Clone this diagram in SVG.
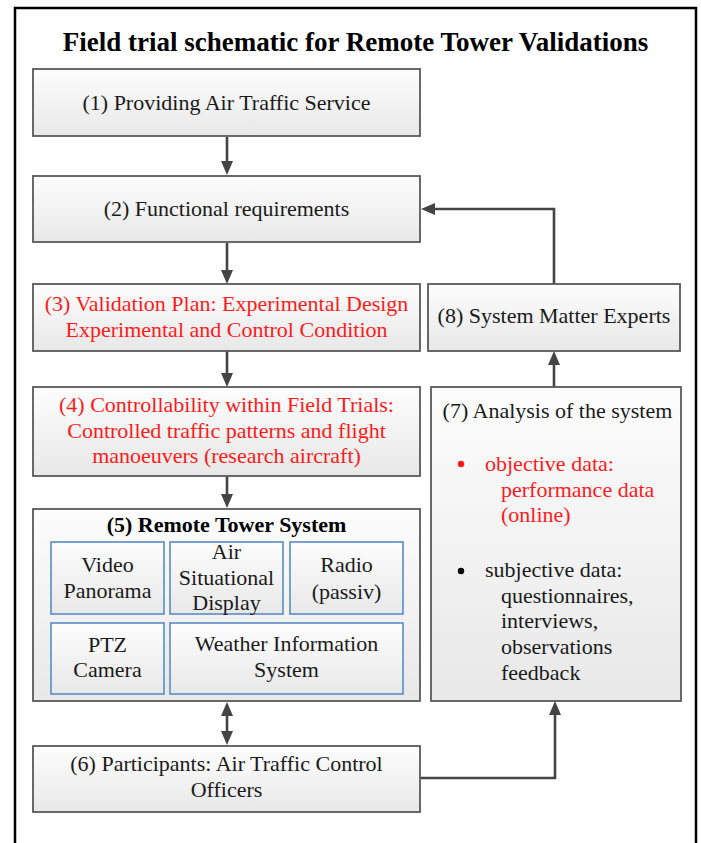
<svg xmlns="http://www.w3.org/2000/svg" width="701" height="843" viewBox="0 0 701 843">
<style>
.box{fill:url(#g);stroke:#595959;stroke-width:1.8}
.inner{fill:url(#g);stroke:#5b8cc4;stroke-width:1.6}
.t{font-family:"Liberation Serif","Times New Roman",serif;font-size:22px;fill:#1a1a1a}
.c{text-anchor:middle}
.r{fill:#ff1a1a}
.b{font-weight:bold;fill:#000}
.conn{fill:none;stroke:#444;stroke-width:2.6}
</style>
<defs>
<linearGradient id="g" x1="0" y1="0" x2="0" y2="1">
<stop offset="0" stop-color="#fdfdfd"/>
<stop offset="1" stop-color="#e8e8e8"/>
</linearGradient>
<marker id="ah" viewBox="0 0 14 12" refX="10" refY="6" markerWidth="14" markerHeight="12" markerUnits="userSpaceOnUse" orient="auto-start-reverse">
<path d="M0,0 L14,6 L0,12 z" fill="#444"/>
</marker>
</defs>
<rect x="15" y="8" width="681" height="850" fill="#fff" stroke="#000" stroke-width="2.5"/>
<text class="t b c" x="355.5" y="51" style="font-size:27px">Field trial schematic for Remote Tower Validations</text>

<g id="connectors">
<path class="conn" d="M227,137 V171" marker-end="url(#ah)"/>
<path class="conn" d="M227,243 V280" marker-end="url(#ah)"/>
<path class="conn" d="M227,351 V383" marker-end="url(#ah)"/>
<path class="conn" d="M227,476 V504" marker-end="url(#ah)"/>
<path class="conn" d="M227,706 V741" marker-start="url(#ah)" marker-end="url(#ah)"/>
<path class="conn" d="M554,284 V209 H425" marker-end="url(#ah)"/>
<path class="conn" d="M554,387 V355" marker-end="url(#ah)"/>
<path class="conn" d="M420,778 H555 V705" marker-end="url(#ah)"/>
</g>

<g id="n1">
<rect class="box" x="33" y="69" width="387" height="67"/>
<text class="t c" x="226.5" y="110">(1) Providing Air Traffic Service</text>
</g>
<g id="n2">
<rect class="box" x="33" y="176" width="387" height="66"/>
<text class="t c" x="226.5" y="216">(2) Functional requirements</text>
</g>
<g id="n3">
<rect class="box" x="33" y="284" width="387" height="67"/>
<text class="t c r" x="226.5" y="311">(3) Validation Plan: Experimental Design</text>
<text class="t c r" x="226.5" y="337">Experimental and Control Condition</text>
</g>
<g id="n4">
<rect class="box" x="33" y="387" width="387" height="89"/>
<text class="t c r" x="226.5" y="412">(4) Controllability within Field Trials:</text>
<text class="t c r" x="226.5" y="438">Controlled traffic patterns and flight</text>
<text class="t c r" x="226.5" y="463">manoeuvers (research aircraft)</text>
</g>
<g id="n5">
<rect class="box" x="33" y="509" width="387" height="192"/>
<text class="t c b" x="226.5" y="532">(5) Remote Tower System</text>
<g id="n5a">
<rect class="inner" x="51" y="542" width="113" height="72"/>
<text class="t c" x="107.5" y="572">Video</text>
<text class="t c" x="107.5" y="598">Panorama</text>
</g>
<g id="n5b">
<rect class="inner" x="170" y="542" width="113" height="72"/>
<text class="t c" x="226.5" y="559">Air</text>
<text class="t c" x="226.5" y="585">Situational</text>
<text class="t c" x="226.5" y="610">Display</text>
</g>
<g id="n5c">
<rect class="inner" x="290" y="542" width="113" height="72"/>
<text class="t c" x="346.5" y="572">Radio</text>
<text class="t c" x="346.5" y="599">(passiv)</text>
</g>
<g id="n5d">
<rect class="inner" x="51" y="623" width="113" height="71"/>
<text class="t c" x="107.5" y="652">PTZ</text>
<text class="t c" x="107.5" y="677">Camera</text>
</g>
<g id="n5e">
<rect class="inner" x="170" y="623" width="233" height="71"/>
<text class="t c" x="286.5" y="651">Weather Information</text>
<text class="t c" x="286.5" y="677">System</text>
</g>
</g>
<g id="n6">
<rect class="box" x="33" y="746" width="387" height="66"/>
<text class="t c" x="226.5" y="771">(6) Participants: Air Traffic Control</text>
<text class="t c" x="226.5" y="797">Officers</text>
</g>
<g id="n7">
<rect class="box" x="431" y="387" width="250" height="314"/>
<text class="t c" x="557.5" y="418">(7) Analysis of the system</text>
<circle cx="461" cy="464" r="3.2" fill="#ff1a1a"/>
<text class="t r" x="485" y="471">objective data:</text>
<text class="t r" x="501" y="497">performance data</text>
<text class="t r" x="501" y="522">(online)</text>
<circle cx="461" cy="571" r="3.2" fill="#000"/>
<text class="t" x="485" y="577">subjective data:</text>
<text class="t" x="501" y="603">questionnaires,</text>
<text class="t" x="501" y="628">interviews,</text>
<text class="t" x="501" y="654">observations</text>
<text class="t" x="501" y="680">feedback</text>
</g>
<g id="n8">
<rect class="box" x="428" y="284" width="252" height="67"/>
<text class="t c" x="554" y="323">(8) System Matter Experts</text>
</g>
</svg>
